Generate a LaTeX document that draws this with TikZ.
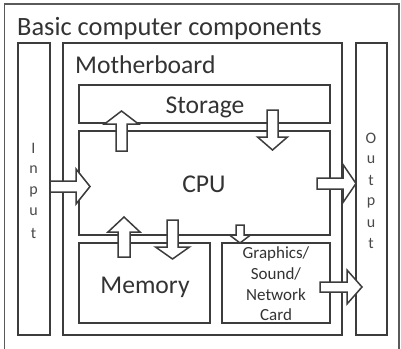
\documentclass[tikz,border=0pt]{standalone}
\usepackage{fontspec}
\setmainfont{Carlito}
\definecolor{linec}{HTML}{3C3C3C}
\definecolor{outerc}{HTML}{5A5A5A}
\definecolor{textc}{HTML}{333333}
\definecolor{lettc}{HTML}{4A4A4A}
\newcommand\vblock[6]{\draw[barrow] (#1-#2,#3) -- (#1-#2,#4) -- (#1-#5,#4) -- (#1,#6) -- (#1+#5,#4) -- (#1+#2,#4) -- (#1+#2,#3) -- cycle;}
\newcommand\hblock[6]{\draw[barrow] (#3,#1-#2) -- (#4,#1-#2) -- (#4,#1-#5) -- (#6,#1) -- (#4,#1+#5) -- (#4,#1+#2) -- (#3,#1+#2) -- cycle;}
\begin{document}
\begin{tikzpicture}[x=1pt,y=-1pt,
  box/.style={draw=linec, line width=1.5pt, anchor=north west, inner sep=0pt, outer sep=0pt},
  barrow/.style={draw=linec, fill=white, line width=1.5pt, line join=miter},
  big/.style={font=\fontsize{25.6}{30}\selectfont, text=textc, inner sep=0pt},
  small/.style={font=\fontsize{17}{20.7}\selectfont, text=textc, inner sep=0pt, align=center},
  lett/.style={font=\fontsize{16}{19}\selectfont, text=lettc, inner sep=0pt}]
\useasboundingbox (0,0) rectangle (401,348);
\clip (0,0) rectangle (401,348);
\fill[white] (0,0) rectangle (401,348);
\draw[draw=outerc, line width=1.2pt] (4.5,4) rectangle (399,360);
% boxes
\node[box, minimum width=32pt, minimum height=292pt] (input) at (18,43) {};
\node[box, minimum width=279pt, minimum height=292pt] (mb) at (63,43) {};
\node[box, minimum width=31pt, minimum height=292pt] (output) at (356,43) {};
\node[box, minimum width=251pt, minimum height=38pt] (storage) at (79,85) {};
\node[box, minimum width=251pt, minimum height=104pt] (cpu) at (79,131) {};
\node[box, minimum width=131pt, minimum height=80pt] (memory) at (79,243) {};
\node[box, minimum width=108pt, minimum height=80pt] (gfx) at (222,243) {};
% block arrows
\vblock{121.5}{5.5}{151}{124}{17}{111}
\vblock{272.5}{5.5}{110}{137}{15}{150}
\vblock{124}{6}{257}{232}{16}{217}
\vblock{172.5}{5.5}{220}{247}{17}{259}
\vblock{240}{4}{225}{235}{10.5}{243}
\hblock{186.5}{5.5}{50}{76}{17.5}{90}
\hblock{183.5}{5.5}{317}{343}{19}{356}
\hblock{287}{5}{320}{347}{17}{362}
% texts
\node[big, anchor=base west, font=\fontsize{26.4}{30}\selectfont] (title) at (17,35) {Basic computer components};
\node[big, anchor=base west] (mbl) at (75,73) {Motherboard};
\node[big, anchor=base] (stl) at (205,113) {Storage};
\node[big, anchor=base] (cpul) at (204,192) {CPU};
\node[big, anchor=base] (meml) at (145,293) {Memory};
\node[small] (gfxl) at (276,284) {Graphics/\\Sound/\\Network\\Card};
\foreach \c/\y [count=\i] in {I/148,n/170,p/192,u/212,t/233}
  \node[lett] (in\i) at (33.5,\y) {\c};
\foreach \c/\y [count=\i] in {O/138,u/160,t/180,p/203,u/224,t/243}
  \node[lett] (out\i) at (371,\y) {\c};
\end{tikzpicture}
\end{document}
